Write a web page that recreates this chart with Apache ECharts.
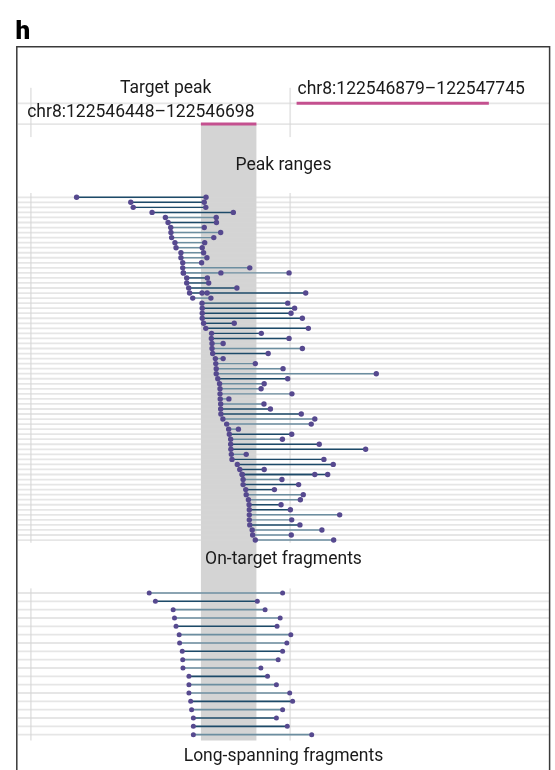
<!DOCTYPE html>
<html>
<head>
<meta charset="utf-8">
<script src="https://cdn.jsdelivr.net/npm/echarts@6/dist/echarts.min.js"></script>
<style>
  html, body { margin: 0; padding: 0; background: #ffffff; }
  #chart { width: 555px; height: 770px; }
</style>
</head>
<body>
<div id="chart"></div>
<script>
// ---- Locus, peaks and panel titles ----
const CHROM = 'chr8';
const targetPeak = [122546448, 122546698];
const neighbourPeak = [122546879, 122547745];
const targetPeakRow = 2;
const neighbourPeakRow = 1;
const xRange = [122545624, 122548016];
const xBreaks = [122545682, 122546850];
const panelTitles = ['Peak ranges', 'On-target fragments', 'Long-spanning fragments'];
const panelLetter = 'h';

// ---- On-target fragments (one per row, top to bottom); tone 0 = dark, 1 = slate ----
const onTargetStart = [
  122545888, 122546132, 122546143, 122546228, 122546288, 122546300, 122546312, 122546313, 122546316, 122546331,
  122546336, 122546358, 122546358, 122546366, 122546366, 122546369, 122546384, 122546384, 122546393, 122546397,
  122546411, 122546453, 122546454, 122546454, 122546454, 122546460, 122546470, 122546496, 122546495, 122546498,
  122546498, 122546501, 122546513, 122546515, 122546517, 122546517, 122546524, 122546532, 122546534, 122546534,
  122546535, 122546537, 122546537, 122546538, 122546547, 122546564, 122546573, 122546576, 122546582, 122546582,
  122546583, 122546585, 122546588, 122546612, 122546623, 122546634, 122546638, 122546638, 122546650, 122546652,
  122546662, 122546665, 122546666, 122546666, 122546666, 122546668, 122546679, 122546681, 122546693
];
const onTargetEnd = [
  122546471, 122546463, 122546470, 122546594, 122546517, 122546518, 122546463, 122546537, 122546506, 122546465,
  122546454, 122546460, 122546475, 122546451, 122546668, 122546845, 122546477, 122546483, 122546610, 122546920,
  122546493, 122546839, 122546870, 122546854, 122546905, 122546598, 122546932, 122546720, 122546845, 122546548,
  122546905, 122546751, 122546548, 122546693, 122546818, 122547238, 122546839, 122546733, 122546719, 122546858,
  122546574, 122546732, 122546761, 122546900, 122546961, 122546945, 122546617, 122546857, 122546815, 122546981,
  122547190, 122546652, 122547002, 122547044, 122546733, 122547019, 122546813, 122546888, 122546779, 122546909,
  122546896, 122546809, 122546851, 122547073, 122546857, 122546894, 122546993, 122546855, 122547046
];
const onTargetTone = [
  0, 0, 0, 0, 1, 0, 1, 1, 1, 1,
  1, 1, 1, 1, 1, 1, 0, 0, 0, 0,
  1, 0, 0, 0, 0, 0, 0, 0, 0, 1,
  1, 0, 1, 1, 1, 1, 0, 1, 1, 1,
  1, 1, 0, 0, 1, 1, 1, 0, 1, 0,
  0, 1, 0, 0, 0, 0, 1, 0, 0, 1,
  1, 0, 0, 1, 1, 0, 1, 1, 1
];
// Additional fragments packed onto an already used row: [row, start, end]
const onTargetShared = [
  [16, 122546369, 122546538],
  [20, 122546453, 122546476],
  [56, 122546634, 122546961]
];

// ---- Long-spanning fragments ----
const longStart = [
  122546215, 122546243, 122546323, 122546329, 122546336, 122546350, 122546352, 122546364, 122546366,
  122546367, 122546394, 122546394, 122546394, 122546402, 122546406, 122546414, 122546414, 122546414
];
const longEnd = [
  122546816, 122546702, 122546737, 122546805, 122546791, 122546853, 122546835, 122546816, 122546796,
  122546718, 122546748, 122546788, 122546848, 122546861, 122546816, 122546788, 122546837, 122546947
];
const longTone = [1, 0, 1, 1, 0, 1, 1, 0, 1, 1, 0, 1, 1, 0, 1, 0, 0, 1];

// ---- Styling ----
const TONES = ['#1d4a69', '#6c8ea0'];
const DOT = '#56498f';
const PEAK_COLOR = '#c4508f';
const GRID_LINE = 'rgba(214,214,214,0.6)';
const BAND = '#d4d4d4';
const FONT = 'Roboto, "Liberation Sans", Arial, sans-serif';
const TEXT = '#1a1a1a';

// Panel layout: [top, height, yMin, yMax]
const panels = [
  { top: 87.8, height: 49.3, yMin: 0.25, yMax: 2.63 },
  { top: 193.0, height: 349.8, yMin: 0.15, yMax: 69.55 },
  { top: 588.4, height: 152.1, yMin: 0.45, yMax: 18.7 }
];
const LEFT = 18, WIDTH = 531;
const bandBottom = panels[2].top + panels[2].height;

// ---- Build series data ----
const rows = (n) => Array.from({ length: n }, (_, i) => [i + 1]);

const onTargetData = onTargetStart.map((s, i) => [i + 1, s, onTargetEnd[i], onTargetTone[i]])
  .concat(onTargetShared.map(([r, s, e]) => [r, s, e, onTargetTone[r - 1]]));
const longData = longStart.map((s, i) => [i + 1, s, longEnd[i], longTone[i]]);
const peakData = [
  [neighbourPeakRow, neighbourPeak[0], neighbourPeak[1]],
  [targetPeakRow, targetPeak[0], targetPeak[1]]
];

function rowGridSeries(idx, n) {
  return {
    type: 'custom', xAxisIndex: idx, yAxisIndex: idx, silent: true, z: 2,
    data: rows(n),
    encode: { y: 0 },
    renderItem(params, api) {
      const y = api.coord([xRange[0], api.value(0)])[1];
      const cs = params.coordSys;
      return { type: 'line', shape: { x1: cs.x, y1: y, x2: cs.x + cs.width, y2: y },
               style: { stroke: GRID_LINE, lineWidth: 1.8 } };
    }
  };
}

function colGridSeries(idx) {
  return {
    type: 'custom', xAxisIndex: idx, yAxisIndex: idx, silent: true, z: 2,
    data: xBreaks.map(v => [v]),
    encode: { x: 0 },
    renderItem(params, api) {
      const x = api.coord([api.value(0), panels[idx].yMin])[0];
      const cs = params.coordSys;
      return { type: 'line', shape: { x1: x, y1: cs.y, x2: x, y2: cs.y + cs.height },
               style: { stroke: GRID_LINE, lineWidth: 1.8 } };
    }
  };
}

function fragmentSeries(idx, data, lw, r) {
  return {
    type: 'custom', xAxisIndex: idx, yAxisIndex: idx, silent: true, z: 5,
    data: data,
    encode: { x: [1, 2], y: 0 },
    renderItem(params, api) {
      const row = api.value(0);
      const p0 = api.coord([api.value(1), row]);
      const p1 = api.coord([api.value(2), row]);
      return {
        type: 'group',
        children: [
          { type: 'line', shape: { x1: p0[0], y1: p0[1], x2: p1[0], y2: p1[1] },
            style: { stroke: TONES[api.value(3)], lineWidth: lw } },
          { type: 'circle', shape: { cx: p0[0], cy: p0[1], r: r }, style: { fill: DOT } },
          { type: 'circle', shape: { cx: p1[0], cy: p1[1], r: r }, style: { fill: DOT } }
        ]
      };
    }
  };
}

const series = [
  // target peak band running down through every panel
  {
    type: 'custom', xAxisIndex: 0, yAxisIndex: 0, silent: true, z: 1, clip: false,
    data: [[targetPeak[0], targetPeak[1], targetPeakRow]],
    encode: { x: [0, 1], y: 2 },
    renderItem(params, api) {
      const a = api.coord([api.value(0), api.value(2)]);
      const b = api.coord([api.value(1), api.value(2)]);
      return { type: 'rect', shape: { x: a[0], y: a[1], width: b[0] - a[0], height: bandBottom - a[1] },
               style: { fill: BAND } };
    }
  },
  rowGridSeries(0, 2), rowGridSeries(1, onTargetStart.length), rowGridSeries(2, longStart.length),
  colGridSeries(0), colGridSeries(1), colGridSeries(2),
  // peak ranges
  {
    type: 'custom', xAxisIndex: 0, yAxisIndex: 0, silent: true, z: 4,
    data: peakData,
    encode: { x: [1, 2], y: 0 },
    renderItem(params, api) {
      const a = api.coord([api.value(1), api.value(0)]);
      const b = api.coord([api.value(2), api.value(0)]);
      return { type: 'line', shape: { x1: a[0], y1: a[1], x2: b[0], y2: b[1] },
               style: { stroke: PEAK_COLOR, lineWidth: 3 } };
    }
  },
  fragmentSeries(1, onTargetData, 1.45, 2.7),
  fragmentSeries(2, longData, 1.6, 2.5)
];

const rangeLabel = (p) => `${CHROM}:${p[0]}\u2013${p[1]}`;

function txt(text, x, y, align) {
  return {
    type: 'text', x: x, y: y, z: 100, silent: true,
    style: { text: text, x: 0, y: 0, fill: TEXT, font: `17.5px ${FONT}`, align: align, verticalAlign: 'middle' }
  };
}

const graphic = [
  { type: 'rect', z: 100, silent: true,
    shape: { x: 16.8, y: 46.8, width: 532.8, height: 780 },
    style: { fill: 'none', stroke: '#3a3a3a', lineWidth: 1.5 } },
  { type: 'text', x: 15.5, y: 32.5, z: 100, silent: true,
    style: { text: panelLetter, fill: '#000', font: `900 26px ${FONT}`, align: 'left', verticalAlign: 'middle' } },
  txt('Target peak', 165.7, 88.7, 'center'),
  txt(rangeLabel(targetPeak), 254.5, 112.2, 'right'),
  txt(rangeLabel(neighbourPeak), 297.5, 89.5, 'left'),
  txt(panelTitles[0], 283.5, 165.8, 'center'),
  txt(panelTitles[1], 283.5, 559.5, 'center'),
  txt(panelTitles[2], 283.5, 757, 'center')
];

const axisOff = { show: false };
const option = {
  animation: false,
  backgroundColor: '#ffffff',
  grid: panels.map(p => ({ left: LEFT, width: WIDTH, top: p.top, height: p.height })),
  xAxis: panels.map((p, i) => ({ type: 'value', gridIndex: i, min: xRange[0], max: xRange[1], ...axisOff })),
  yAxis: panels.map((p, i) => ({ type: 'value', gridIndex: i, inverse: true, min: p.yMin, max: p.yMax, ...axisOff })),
  series: series,
  graphic: graphic
};

const chart = echarts.init(document.getElementById('chart'), null, { renderer: 'canvas' });
chart.setOption(option);
</script>
</body>
</html>
